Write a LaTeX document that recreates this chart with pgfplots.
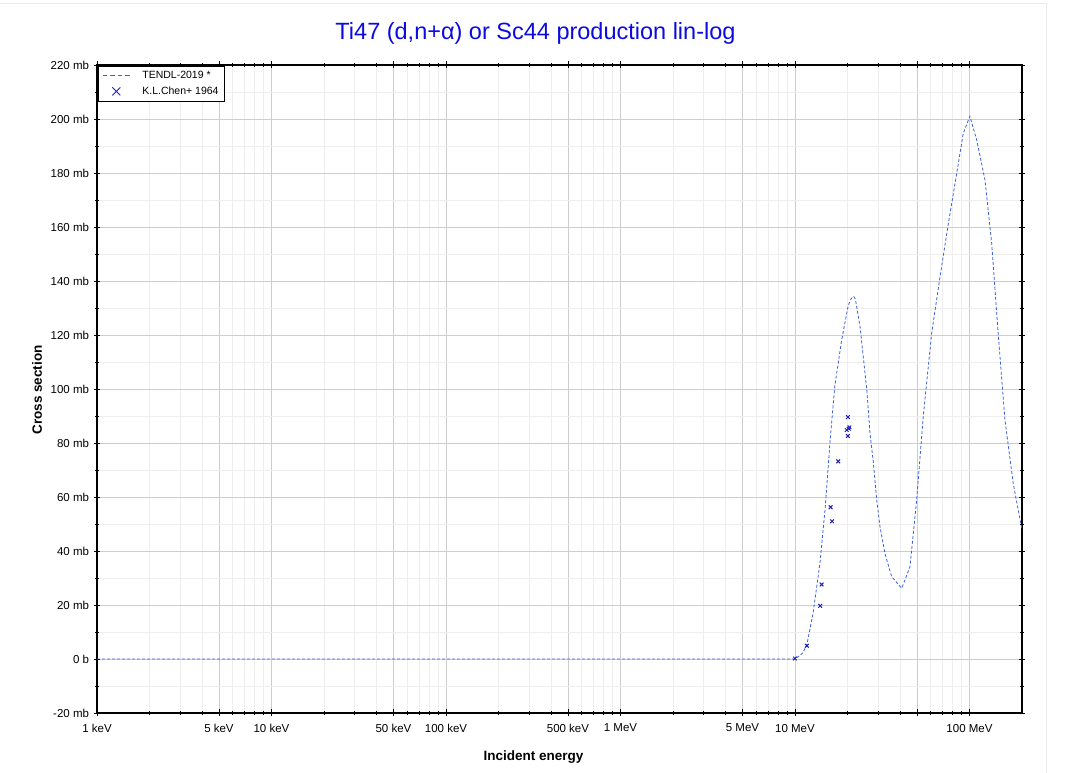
\documentclass[border=0pt]{standalone}
\usepackage{pgfplots}
\pgfplotsset{compat=1.18}
\usepackage{fontspec}
\setmainfont{Liberation Sans}
\definecolor{curveblue}{RGB}{55,95,225}
\definecolor{markblue}{RGB}{30,30,185}
\definecolor{titleblue}{RGB}{10,10,225}
\definecolor{majgrid}{RGB}{205,205,205}
\definecolor{mingrid}{RGB}{238,238,238}
\begin{document}
\begin{tikzpicture}[x=1pt,y=1pt]
\useasboundingbox (0,0) rectangle (1071,773);
\draw[black!8, line width=1pt] (0,769) -- (1046,769) -- (1046,0);
\node[font=\fontsize{23.5}{28}\selectfont, text=titleblue] at (535.5,740) {Ti47 (d,n+α) or Sc44 production lin-log};
\node[font=\fontsize{13.5}{16}\selectfont\bfseries] at (533.5,16) {Incident energy};
\node[font=\fontsize{13.5}{16}\selectfont\bfseries, rotate=90] at (37,383) {Cross section};
\begin{axis}[
  at={(97pt,60pt)}, anchor=south west,
  width=925pt, height=648pt, scale only axis,
  xmode=log, xmin=1e3, xmax=2e8,
  ymin=-20, ymax=220,
  axis line style={line width=1.2pt},
  xtick={1e3,5e3,1e4,5e4,1e5,5e5,1e6,5e6,1e7,5e7,1e8},
  xticklabels={1 keV,5 keV,10 keV,50 keV,100 keV,500 keV,1 MeV,5 MeV,10 MeV,,100 MeV},
  minor xtick={2e3,3e3,4e3,6e3,7e3,8e3,9e3,2e4,3e4,4e4,6e4,7e4,8e4,9e4,2e5,3e5,4e5,6e5,7e5,8e5,9e5,2e6,3e6,4e6,6e6,7e6,8e6,9e6,2e7,3e7,4e7,6e7,7e7,8e7,9e7},
  ytick={-20,0,20,40,60,80,100,120,140,160,180,200,220},
  yticklabels={-20 mb,0 b,20 mb,40 mb,60 mb,80 mb,100 mb,120 mb,140 mb,160 mb,180 mb,200 mb,220 mb},
  minor ytick={-10,10,30,50,70,90,110,130,150,170,190,210},
  grid=both,
  major grid style={majgrid, line width=0.9pt},
  minor grid style={mingrid, line width=0.9pt},
  tick align=center,
  major tick length=7pt, minor tick length=4pt,
  tick style={black, line width=0.8pt},
  xticklabel style={font=\fontsize{11.5}{13}\selectfont, yshift=-4pt},
  yticklabel style={font=\fontsize{11.5}{13}\selectfont, xshift=-1pt},
  legend style={at={(0.001,0.999)}, anchor=north west, draw=black, line width=0.7pt,
    font=\fontsize{10.5}{12}\selectfont, inner xsep=4pt, inner ysep=3pt, row sep=3pt,
    fill=white},
  legend cell align=left,
]
\addplot[color=curveblue, line width=0.8pt, dash pattern=on 3pt off 2pt,
  legend image code/.code={\draw[curveblue, line width=1.1pt, dash pattern=on 4.5pt off 3pt] (0pt,0pt) -- (27pt,0pt);}] table {
x y
1e3 0
1e5 0
1e7 0
1.1e7 2
1.167e7 5
1.27e7 17
1.39e7 35.5
1.49e7 56
1.59e7 81
1.69e7 101
1.85e7 118
2.02e7 131
2.10e7 133.5
2.17e7 134.3
2.22e7 133.2
2.36e7 123
2.58e7 99.6
2.69e7 83.6
2.81e7 73
2.94e7 58.9
3.07e7 49
3.28e7 39
3.58e7 30.5
4.09e7 26.2
4.56e7 34.2
4.98e7 58.9
5.43e7 89.7
6.07e7 120.6
6.78e7 141.6
7.57e7 161.4
8.45e7 179.9
9.21e7 194.7
1.005e8 201
1.10e8 192.2
1.227e8 177.4
1.34e8 154
1.46e8 120.6
1.597e8 88.5
1.78e8 65.1
2.0e8 47.8
};
\addlegendentry{\hspace{10pt}TENDL-2019 *}
\addplot[only marks, mark=x, mark size=2.6pt, color=markblue, mark options={line width=1pt},
  legend image code/.code={\draw[markblue, line width=0.9pt] (13.5pt,0pt) +(-4pt,-4pt) -- +(4pt,4pt) +(-4pt,4pt) -- +(4pt,-4pt);}] table {
x y
1.0e7 0.2
1.17e7 4.9
1.395e7 19.7
1.42e7 27.6
1.60e7 56.2
1.63e7 51
1.77e7 73.2
2.01e7 89.6
2.05e7 85.8
1.98e7 84.8
2.01e7 82.6
2.03e7 85.3
};
\addlegendentry{\hspace{10pt}K.L.Chen+ 1964}
\end{axis}
\end{tikzpicture}
\end{document}
